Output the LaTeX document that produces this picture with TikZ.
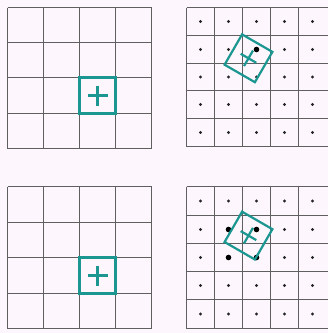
\documentclass[tikz,border=0pt]{standalone}
\definecolor{bgpink}{RGB}{253,247,253}
\definecolor{tealc}{RGB}{28,150,144}
\definecolor{gridc}{RGB}{95,95,95}
\tikzset{
  gridline/.style={draw=gridc, line width=1.2pt},
  tealbox/.style={draw=tealc, line width=2.2pt},
  tealplus/.style={draw=tealc, line width=2.2pt},
  smalldot/.style={fill=black!85, draw=none},
  bigdot/.style={fill=black, draw=none},
}
\begin{document}
\begin{tikzpicture}[x=1pt,y=-1pt]
\useasboundingbox (0,0) rectangle (328,333);
\fill[bgpink] (0,0) rectangle (328,333);
% ---------- left grids ----------
\foreach \x in {7.5,43.5,79.5,115.5,151.5}{
  \draw[gridline] (\x,7.5) -- (\x,148.5);
  \draw[gridline] (\x,186.5) -- (\x,328.5);
}
\foreach \y in {7.5,42.5,77.5,113.5,148.5,186.5,222.5,257.5,293.5,328.5}{
  \draw[gridline] (7.5,\y) -- (151.5,\y);
}
\foreach \y in {77.5,257.5}{
  \draw[tealbox] (79.5,\y) rectangle (115.5,\y+36);
  \draw[tealplus] (87.5,\y+18) -- (107.5,\y+18);
  \draw[tealplus] (97.5,\y+8) -- (97.5,\y+28);
}
% ---------- right grids ----------
\foreach \x in {186.5,214.5,242.5,270.5,298.5}{
  \draw[gridline] (\x,7.5) -- (\x,146.5);
  \draw[gridline] (\x,186.5) -- (\x,328.5);
}
\foreach \y in {7.5,35.5,63.5,90.5,118.5,146.5,186.5,215.5,243.5,271.5,299.5,328.5}{
  \draw[gridline] (186.5,\y) -- (328,\y);
}
\foreach \x in {200.5,228.5,256.5,284.5,312.5}{
  \foreach \y in {21.5,49.5,77,104.5,132.5,201,229.5,257.5,285.5,314}{
    \fill[smalldot] (\x,\y) circle (1.6);
  }
}
% nearest neighbour
\fill[bigdot] (256.5,49.5) circle (2.8);
% bilinear
\foreach \x in {228.5,256.5}{
  \foreach \y in {229.5,257.5}{
    \fill[bigdot] (\x,\y) circle (2.8);
  }
}
\foreach \cy in {58.3,235.6}{
  \begin{scope}[shift={(248.5,\cy)},rotate=-30]
    \draw[tealbox] (-17.5,-17.5) rectangle (17.5,17.5);
    \draw[tealplus] (-9,0) -- (9,0);
    \draw[tealplus] (0,-9) -- (0,9);
  \end{scope}
}
\end{tikzpicture}
\end{document}
